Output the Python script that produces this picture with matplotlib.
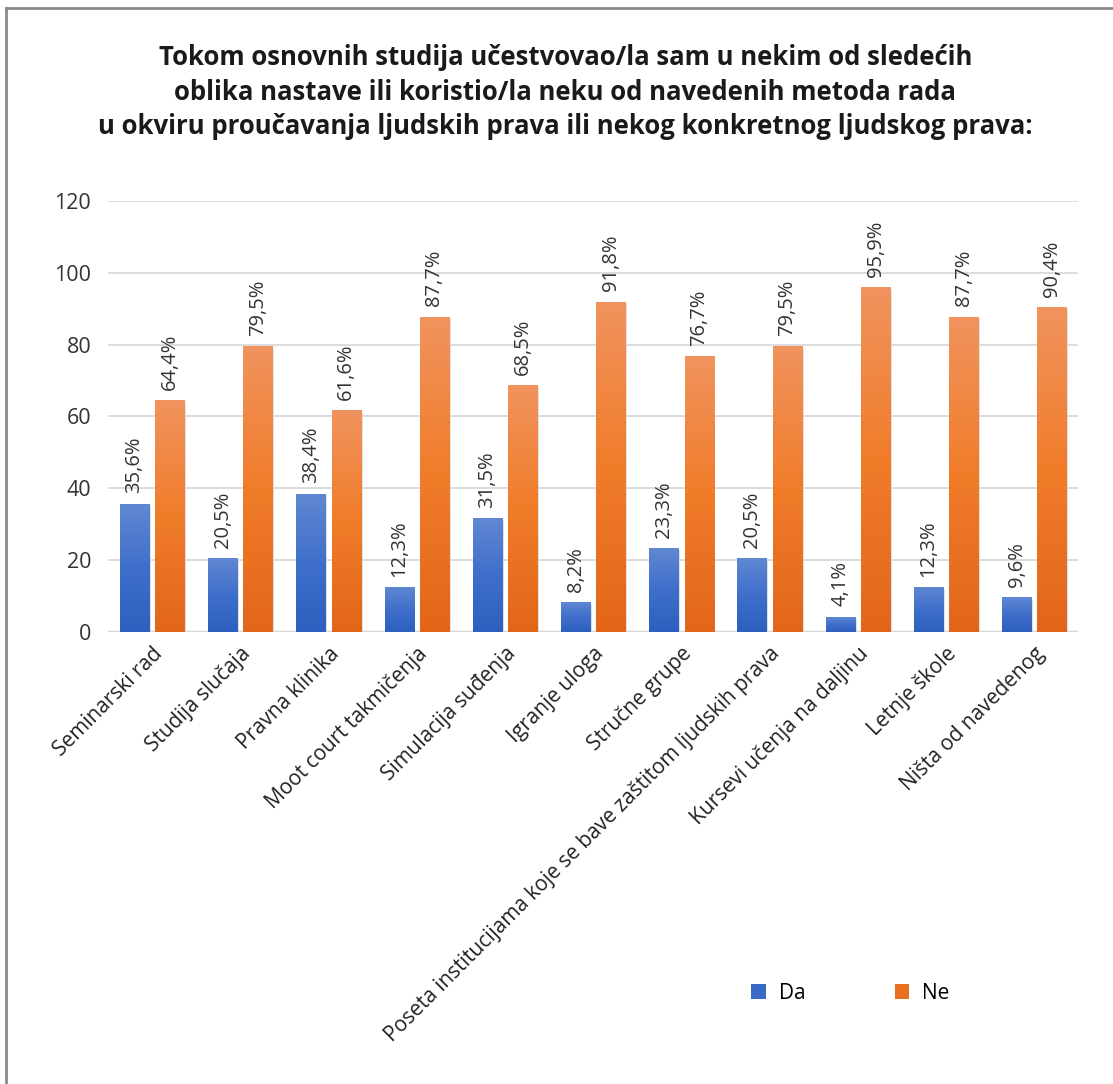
import matplotlib.pyplot as plt
import numpy as np
from matplotlib.lines import Line2D
from matplotlib.colors import LinearSegmentedColormap

plt.rcParams['font.family'] = ['Open Sans', 'DejaVu Sans']

CATEGORIES = [
    "Seminarski rad",
    "Studija slučaja",
    "Pravna klinika",
    "Moot court takmičenja",
    "Simulacija suđenja",
    "Igranje uloga",
    "Stručne grupe",
    "Poseta institucijama koje se bave zaštitom ljudskih prava",
    "Kursevi učenja na daljinu",
    "Letnje škole",
    "Ništa od navedenog",
]
DA = [35.6, 20.5, 38.4, 12.3, 31.5, 8.2, 23.3, 20.5, 4.1, 12.3, 9.6]
NE = [64.4, 79.5, 61.6, 87.7, 68.5, 91.8, 76.7, 79.5, 95.9, 87.7, 90.4]
YTICKS = [0, 20, 40, 60, 80, 100, 120]

TITLE = ("Tokom osnovnih studija učestvovao/la sam u nekim od sledećih\n"
         "oblika nastave ili koristio/la neku od navedenih metoda rada\n"
         "u okviru proučavanja ljudskih prava ili nekog konkretnog ljudskog prava:")

BLUE_CMAP = LinearSegmentedColormap.from_list("b", ["#2e5fbe", "#3f6fcb", "#6088d2"])
ORANGE_CMAP = LinearSegmentedColormap.from_list("o", ["#e2661a", "#f07c2a", "#f1935e"])

fig = plt.figure(figsize=(11.13, 10.84), dpi=100)
ax = fig.add_axes([0.097, 0.417, 0.872, 0.3976])

x = np.arange(len(CATEGORIES))
w = 0.33
gap = 0.035
bars_da = ax.bar(x - w / 2 - gap, DA, w, color="#3a6ac8", label="Da", zorder=2)
bars_ne = ax.bar(x + w / 2 + gap, NE, w, color="#ea7020", label="Ne", zorder=2)

grad = np.linspace(0, 1, 256).reshape(-1, 1)
for bars, cmap in [(bars_da, BLUE_CMAP), (bars_ne, ORANGE_CMAP)]:
    for b in bars:
        x0, h, bw = b.get_x(), b.get_height(), b.get_width()
        # soft shadow
        ax.bar(x0 + bw / 2 + 0.02, h, bw, bottom=-0.6, color="#000000", alpha=0.12,
               zorder=1.5, linewidth=0)
        ax.imshow(grad, extent=[x0, x0 + bw, 0, h], origin="lower", cmap=cmap,
                  aspect="auto", zorder=2.5)
        ax.text(x0 + bw / 2, h + 3.0, f"{h:.1f}%".replace(".", ","), rotation=90,
                ha="center", va="bottom", fontsize=14.5, color="#333333")

ax.set_xlim(-0.5, len(CATEGORIES) - 0.5)
ax.set_ylim(0, 120)
ax.set_yticks(YTICKS)
ax.set_yticklabels([str(t) for t in YTICKS], fontsize=15.5, color="#333333")
ax.set_xticks(x)
ax.set_xticklabels(CATEGORIES, rotation=45, ha="right", rotation_mode="anchor",
                   fontsize=15, color="#222222")
ax.tick_params(length=0, pad=12)
ax.tick_params(axis="x", pad=8)
ax.grid(axis="y", color="#d9d9d9", linewidth=1.3, zorder=0)
for s in ax.spines.values():
    s.set_visible(False)
ax.axhline(0, color="#d0d0d0", linewidth=2.5, zorder=1)

fig.text(0.508, 0.959, TITLE, ha="center", va="top", fontsize=18.5, fontweight="bold",
         color="#1a1a1a", linespacing=1.35)

leg = fig.legend(handles=[bars_da, bars_ne], labels=["Da", "Ne"], loc="center",
                 bbox_to_anchor=(0.764, 0.0835), ncol=2, frameon=False, fontsize=15,
                 handlelength=0.7, handleheight=0.7, columnspacing=4.3, handletextpad=0.6)

# frame lines on left and top
fig.add_artist(Line2D([0.005, 0.005], [0, 0.993], color="#8a8a8a", linewidth=2))
fig.add_artist(Line2D([0.005, 1.0], [0.993, 0.993], color="#8a8a8a", linewidth=2))

fig.savefig("out.png", dpi=100, facecolor="white")
